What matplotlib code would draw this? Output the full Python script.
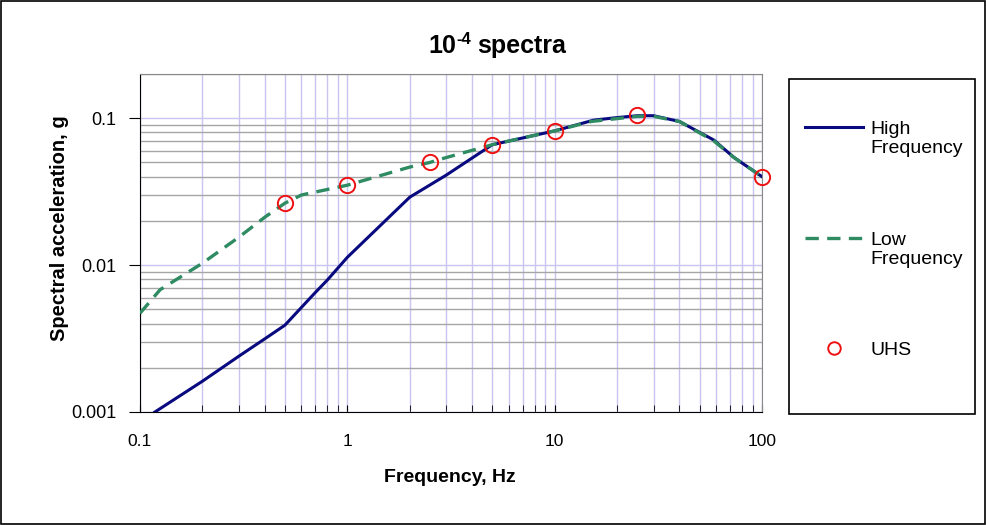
import matplotlib
matplotlib.use("Agg")
import matplotlib.pyplot as plt
from matplotlib.patches import Rectangle
from matplotlib.lines import Line2D
from matplotlib.ticker import LogLocator, FixedLocator, NullFormatter

plt.rcParams['font.family'] = ['Liberation Sans', 'DejaVu Sans']

hf_freq = [0.118, 0.2, 0.3, 0.4, 0.5, 0.7, 0.8, 1.0, 2.0, 3.0, 5.0, 10.0, 15.4, 20.0, 25.0, 30.0, 40.0, 58.6, 73.3, 100.0]
hf_sa = [0.001, 0.00162, 0.0024, 0.00315, 0.0039, 0.0065, 0.0079, 0.0113, 0.029, 0.041, 0.0660, 0.082, 0.097, 0.101, 0.104, 0.104, 0.095, 0.071, 0.054, 0.040]

lf_freq = [0.1, 0.125, 0.2, 0.3, 0.4, 0.5, 0.6, 1.0, 2.0, 2.5, 3.0, 5.0, 10.0, 15.0, 25.0, 30.0, 40.0, 58.6, 73.3, 100.0]
lf_sa = [0.0047, 0.0068, 0.0103, 0.0155, 0.0212, 0.0264, 0.030, 0.035, 0.0465, 0.050, 0.054, 0.066, 0.082, 0.095, 0.103, 0.103, 0.095, 0.070, 0.054, 0.040]

uhs_freq = [0.5, 1.0, 2.5, 5.0, 10.0, 25.0, 100.0]
uhs_sa = [0.0265, 0.035, 0.050, 0.066, 0.082, 0.105, 0.040]

x_ticks = [0.1, 1, 10, 100]
x_tick_labels = ['0.1', '1', '10', '100']
y_ticks = [0.001, 0.01, 0.1]
y_tick_labels = ['0.001', '0.01', '0.1']

HF_COLOR = '#0a0a80'
LF_COLOR = '#2e8b62'
UHS_COLOR = '#ee1111'
LF_DASH = (0, (4, 2.5))

W, H = 987, 525
fig = plt.figure(figsize=(W / 100, H / 100), dpi=100)
ax = fig.add_axes([140 / W, 1 - 412 / H, (762 - 140) / W, (412 - 74) / H])

ax.set_xscale('log')
ax.set_yscale('log')
ax.set_xlim(0.1, 100)
ax.set_ylim(0.001, 0.2)

ax.xaxis.set_major_locator(FixedLocator(x_ticks))
ax.xaxis.set_minor_locator(LogLocator(base=10, subs=range(2, 10)))
ax.xaxis.set_minor_formatter(NullFormatter())
ax.yaxis.set_major_locator(FixedLocator(y_ticks))
ax.yaxis.set_minor_locator(LogLocator(base=10, subs=range(2, 10)))
ax.yaxis.set_minor_formatter(NullFormatter())
ax.set_xticklabels(x_tick_labels)
ax.set_yticklabels(y_tick_labels)

ax.grid(True, axis='x', which='both', color='#c8c6f0', linewidth=1.0)
ax.grid(True, axis='y', which='minor', color='#a6a6a6', linewidth=1.0)
ax.grid(True, axis='y', which='major', color='#c8c6f0', linewidth=1.0)
ax.set_axisbelow(True)

ax.plot(hf_freq, hf_sa, color=HF_COLOR, linewidth=2.2, zorder=3)
ax.plot(lf_freq, lf_sa, color=LF_COLOR, linewidth=2.4, linestyle=LF_DASH, zorder=4)
ax.plot(uhs_freq, uhs_sa, linestyle='none', marker='o', markersize=11, markerfacecolor='none',
        markeredgecolor=UHS_COLOR, markeredgewidth=1.4, zorder=5, clip_on=False)

for s in ['top', 'right']:
    ax.spines[s].set_color('#888888')
ax.spines['left'].set_color('black')
ax.spines['bottom'].set_color('black')

ax.tick_params(axis='y', which='major', direction='out', length=8, labelsize=13, pad=9, color='black')
ax.tick_params(axis='y', which='minor', length=0)
ax.tick_params(axis='x', which='both', direction='in', length=5, color='black')
ax.tick_params(axis='x', which='major', labelsize=12.5, pad=16)

ax.set_xlabel('Frequency, Hz', fontsize=14, fontweight='bold')
ax.xaxis.set_label_coords(0.498, (412 - 469) / (412 - 74))
ax.set_ylabel('Spectral acceleration, g', fontsize=14.5, fontweight='bold')
ax.yaxis.set_label_coords((69 - 140) / (762 - 140), 0.545)

# title: "10" + superscript "-4" + " spectra"
t1 = fig.text(428 / W, 1 - 46 / H, '10', ha='left', va='center', fontsize=18, fontweight='bold')
fig.canvas.draw()
r = fig.canvas.get_renderer()
bb = t1.get_window_extent(r)
t2 = fig.text(bb.x1 / W + 1 / W, 1 - 39 / H, '-4', ha='left', va='center', fontsize=12, fontweight='bold')
bb2 = t2.get_window_extent(r)
fig.text(bb2.x1 / W + 6 / W, 1 - 46 / H, 'spectra', ha='left', va='center', fontsize=18, fontweight='bold')

# legend frame
fig.patches.append(Rectangle((789 / W, 1 - 414 / H), (975 - 789) / W, (414 - 79) / H,
                             transform=fig.transFigure, fill=False, edgecolor='black', linewidth=1.2))

blank = Line2D([], [], color='none')
entries = [
    (Line2D([], [], color=HF_COLOR, linewidth=2.2), ['High', 'Frequency'], 138.5),
    (Line2D([], [], color=LF_COLOR, linewidth=2.4, linestyle=LF_DASH), ['Low', 'Frequency'], 249.5),
    (Line2D([], [], linestyle='none', marker='o', markersize=9, markerfacecolor='none',
            markeredgecolor=UHS_COLOR, markeredgewidth=1.4), ['UHS'], 350),
]
for handle, labels, yc in entries:
    hs = [handle] + [blank] * (len(labels) - 1)
    fig.legend(hs, labels, loc='center left', bbox_to_anchor=(805 / W, 1 - yc / H),
               frameon=False, fontsize=14, labelspacing=0.1, handlelength=3.0,
               handletextpad=0.35, borderpad=0, borderaxespad=0)

fig.patches.append(Rectangle((0.001, 0.001), 0.997, 0.997, transform=fig.transFigure,
                             fill=False, edgecolor='black', linewidth=1.2))

fig.savefig('out.png', dpi=100)
